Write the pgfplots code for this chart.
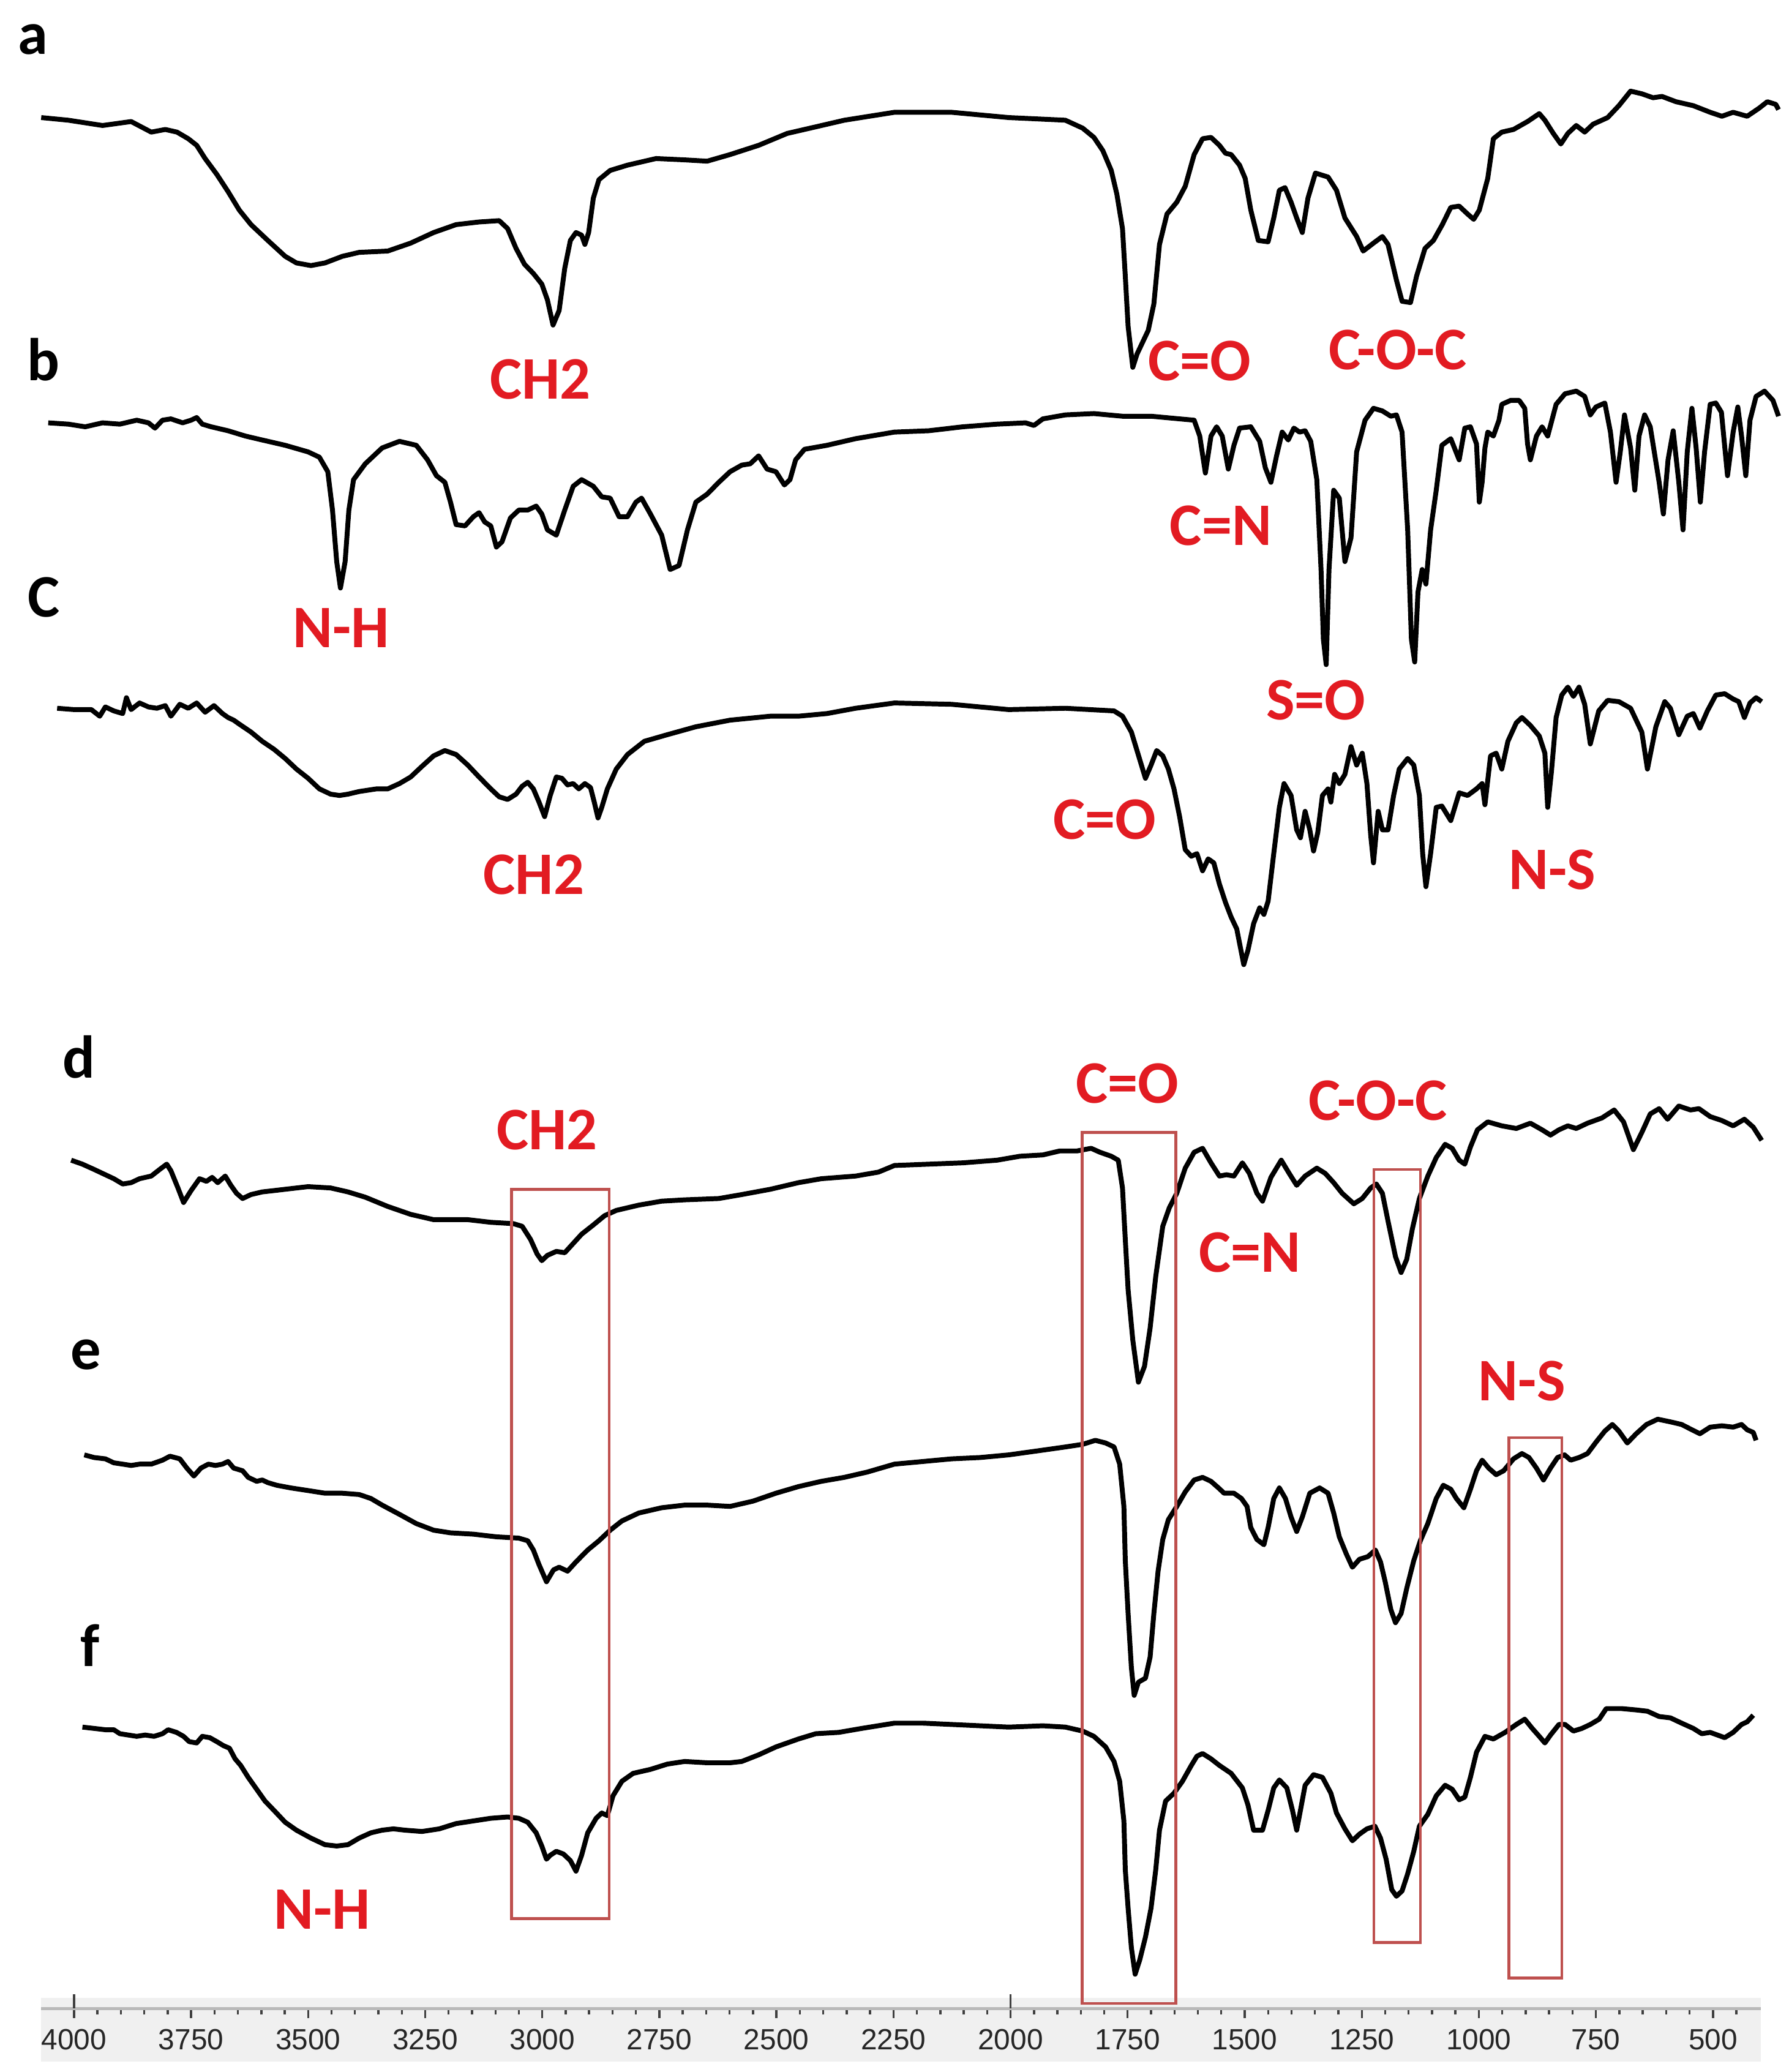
\documentclass[border=0pt]{standalone}
\usepackage{pgfplots}
\pgfplotsset{compat=1.18}
\usepackage{fontspec}
\setmainfont{Liberation Sans}
\newfontfamily\carlito{Carlito}

\definecolor{lblred}{RGB}{226,27,34}
\definecolor{boxred}{RGB}{190,80,78}
\tikzset{spec/.style={black, solid, line width=1.05pt, line join=round, mark=none}}

% x: wavenumber (cm^-1), y: stacked transmittance (arbitrary offsets)
\pgfplotstableread{
4070 -89
4012 -91
3939 -95
3878 -92
3835 -100
3805 -98
3780 -100
3756 -105
3738 -110
3720 -120
3695 -132
3671 -145
3647 -159
3622 -170
3586 -182
3549 -194
3525 -199
3494 -201
3464 -199
3427 -194
3391 -191
3330 -190
3281 -184
3232 -176
3184 -170
3135 -168
3092 -167
3074 -173
3056 -188
3038 -200
3019 -207
3001 -215
2989 -227
2977 -246
2964 -235
2952 -203
2940 -182
2928 -176
2916 -178
2909 -185
2901 -176
2891 -150
2879 -136
2855 -129
2818 -125
2757 -120
2696 -121
2648 -122
2599 -117
2538 -110
2477 -101
2428 -97
2355 -91
2248 -85
2126 -85
2004 -89
1883 -91
1846 -97
1822 -104
1803 -114
1785 -129
1773 -147
1761 -173
1755 -209
1749 -247
1739 -278
1730 -268
1718 -259
1706 -250
1694 -230
1682 -185
1666 -162
1645 -153
1627 -141
1608 -117
1590 -105
1572 -104
1554 -110
1541 -116
1529 -117
1511 -125
1499 -135
1487 -159
1471 -182
1450 -183
1438 -165
1426 -144
1414 -142
1401 -153
1389 -165
1377 -176
1365 -150
1349 -131
1322 -134
1304 -144
1286 -165
1261 -179
1247 -190
1225 -184
1206 -179
1194 -185
1176 -212
1164 -228
1146 -229
1133 -209
1115 -188
1097 -182
1078 -170
1060 -157
1042 -156
1024 -162
1011 -166
999 -159
981 -135
969 -105
951 -100
926 -98
896 -92
871 -86
859 -91
841 -101
825 -109
810 -101
792 -95
774 -100
756 -94
725 -89
701 -80
676 -69
652 -71
628 -74
609 -73
579 -77
542 -80
506 -85
481 -88
457 -85
427 -88
402 -82
384 -77
366 -79
360 -83
}\specA

\pgfplotstableread{
4055 -320
4012 -321
3976 -323
3939 -320
3902 -321
3866 -318
3841 -320
3827 -324
3811 -318
3793 -317
3768 -320
3750 -318
3738 -316
3726 -321
3707 -323
3671 -326
3634 -330
3598 -333
3549 -337
3500 -342
3476 -346
3458 -357
3448 -386
3439 -425
3431 -445
3421 -425
3413 -386
3403 -363
3378 -351
3342 -339
3305 -334
3269 -337
3245 -348
3226 -360
3208 -365
3196 -380
3184 -397
3165 -398
3147 -391
3135 -388
3123 -395
3110 -398
3098 -414
3086 -410
3068 -392
3050 -386
3031 -386
3013 -383
3001 -389
2989 -401
2970 -405
2952 -386
2934 -368
2916 -363
2891 -368
2873 -376
2855 -377
2836 -391
2818 -391
2800 -380
2788 -377
2769 -389
2745 -405
2727 -431
2708 -428
2690 -401
2672 -380
2648 -374
2623 -365
2599 -357
2574 -352
2556 -351
2538 -345
2520 -355
2501 -357
2483 -367
2471 -363
2459 -348
2440 -340
2392 -337
2331 -332
2248 -327
2175 -326
2102 -323
2029 -321
1968 -320
1950 -322
1931 -317
1883 -314
1822 -313
1761 -315
1700 -315
1639 -317
1608 -318
1596 -330
1584 -358
1572 -330
1560 -323
1548 -330
1535 -355
1523 -337
1511 -324
1487 -323
1468 -334
1456 -354
1444 -365
1432 -345
1420 -327
1407 -333
1395 -324
1383 -327
1371 -326
1359 -334
1346 -363
1337 -431
1332 -484
1326 -503
1320 -431
1310 -371
1298 -377
1286 -425
1273 -407
1261 -342
1243 -318
1225 -309
1206 -311
1188 -315
1176 -314
1164 -327
1152 -401
1144 -484
1137 -501
1130 -448
1121 -431
1113 -442
1103 -401
1091 -371
1079 -337
1060 -332
1042 -348
1030 -324
1018 -323
1005 -336
999 -380
993 -365
987 -339
981 -327
969 -330
957 -318
951 -306
932 -303
914 -303
902 -309
896 -336
890 -348
877 -330
865 -323
853 -330
835 -306
816 -298
792 -296
774 -300
762 -314
750 -308
731 -305
719 -327
707 -365
698 -342
689 -314
676 -339
667 -371
658 -330
646 -314
634 -323
615 -365
606 -389
596 -348
585 -326
573 -365
564 -401
555 -342
545 -309
536 -339
527 -380
518 -342
506 -306
494 -305
482 -312
469 -360
457 -327
447 -308
439 -330
430 -360
421 -318
408 -300
390 -296
372 -303
360 -315
}\specB

\pgfplotstableread{
4036 -536
4000 -537
3963 -537
3945 -542
3933 -535
3915 -538
3896 -540
3888 -528
3878 -537
3860 -532
3841 -535
3823 -536
3805 -534
3793 -542
3774 -533
3756 -536
3738 -532
3720 -539
3701 -534
3683 -540
3671 -543
3659 -545
3647 -548
3622 -554
3598 -561
3573 -567
3549 -574
3525 -582
3500 -589
3476 -597
3452 -601
3433 -602
3415 -601
3391 -599
3354 -597
3330 -597
3305 -593
3281 -588
3257 -580
3232 -572
3208 -568
3184 -571
3159 -579
3135 -588
3110 -597
3092 -603
3074 -605
3056 -601
3043 -595
3031 -592
3019 -597
3007 -607
2995 -618
2983 -602
2970 -588
2958 -589
2946 -594
2934 -593
2922 -597
2909 -593
2897 -596
2889 -607
2881 -619
2873 -611
2861 -597
2842 -582
2818 -571
2782 -561
2733 -556
2672 -550
2599 -545
2513 -542
2453 -542
2392 -540
2331 -536
2248 -532
2126 -533
2004 -537
1883 -536
1779 -538
1761 -542
1742 -554
1724 -575
1712 -589
1700 -579
1688 -568
1675 -572
1663 -582
1651 -597
1639 -618
1627 -643
1614 -648
1602 -646
1590 -659
1578 -650
1566 -653
1554 -669
1541 -683
1529 -694
1517 -703
1502 -730
1493 -719
1481 -699
1468 -687
1459 -692
1450 -682
1438 -646
1426 -611
1416 -593
1401 -602
1389 -628
1381 -634
1371 -614
1361 -628
1353 -644
1344 -630
1334 -602
1322 -597
1316 -607
1308 -586
1298 -593
1286 -586
1273 -565
1261 -579
1249 -570
1239 -593
1231 -632
1225 -653
1215 -614
1206 -628
1194 -628
1182 -602
1170 -582
1152 -574
1139 -579
1127 -602
1120 -646
1113 -671
1103 -646
1091 -611
1079 -610
1060 -621
1042 -600
1024 -602
1005 -597
993 -593
987 -609
975 -572
963 -570
951 -582
938 -561
920 -547
908 -543
890 -549
871 -557
859 -570
853 -611
845 -584
835 -543
823 -526
810 -520
798 -527
786 -520
774 -533
762 -563
744 -538
725 -530
701 -531
676 -536
652 -554
640 -582
622 -550
603 -531
591 -536
573 -556
555 -542
542 -540
528 -551
512 -538
494 -526
475 -525
457 -529
445 -531
433 -543
421 -532
408 -528
396 -531
}\specC

\pgfplotstableread{
4006 -878
3982 -881
3957 -885
3939 -888
3915 -892
3896 -896
3878 -895
3860 -892
3835 -890
3817 -885
3802 -881
3793 -886
3778 -899
3766 -910
3750 -901
3732 -892
3717 -894
3705 -891
3693 -895
3677 -890
3665 -897
3653 -903
3640 -907
3622 -904
3598 -902
3573 -901
3549 -900
3500 -898
3452 -899
3415 -902
3378 -906
3330 -913
3281 -919
3232 -923
3159 -923
3110 -925
3062 -926
3043 -928
3025 -938
3011 -949
3001 -954
2989 -950
2970 -947
2952 -948
2934 -941
2916 -934
2891 -927
2867 -920
2842 -916
2794 -912
2745 -909
2696 -908
2623 -907
2574 -904
2513 -900
2453 -895
2404 -892
2331 -890
2282 -887
2248 -882
2175 -881
2102 -880
2029 -878
1980 -875
1931 -874
1895 -871
1858 -871
1828 -869
1809 -872
1785 -875
1770 -878
1761 -899
1755 -938
1749 -976
1739 -1014
1727 -1046
1714 -1034
1702 -1005
1690 -966
1675 -928
1661 -914
1645 -903
1627 -884
1608 -872
1590 -869
1572 -880
1554 -890
1539 -889
1523 -890
1505 -880
1490 -888
1474 -903
1462 -909
1444 -891
1422 -878
1405 -888
1389 -897
1371 -890
1346 -884
1328 -888
1310 -895
1292 -903
1267 -911
1249 -907
1231 -899
1219 -896
1206 -903
1194 -924
1178 -951
1166 -963
1154 -953
1142 -930
1127 -907
1109 -890
1091 -876
1072 -866
1057 -869
1042 -878
1030 -881
1018 -868
1003 -855
981 -849
951 -852
920 -854
890 -850
865 -855
847 -859
829 -855
810 -852
792 -854
768 -850
737 -846
711 -840
691 -849
670 -870
652 -857
634 -843
615 -839
597 -847
573 -837
548 -840
530 -839
506 -845
481 -848
457 -852
433 -847
414 -853
396 -863
}\specD

\pgfplotstableread{
3978 -1101
3957 -1103
3933 -1104
3915 -1107
3896 -1108
3878 -1109
3860 -1108
3835 -1108
3811 -1105
3795 -1102
3774 -1104
3759 -1111
3744 -1117
3729 -1111
3713 -1108
3698 -1109
3683 -1108
3671 -1106
3659 -1111
3640 -1113
3628 -1118
3610 -1121
3598 -1120
3586 -1122
3567 -1124
3537 -1126
3500 -1128
3464 -1130
3427 -1130
3391 -1131
3366 -1134
3342 -1139
3305 -1146
3269 -1153
3232 -1158
3196 -1160
3147 -1161
3098 -1163
3050 -1164
3031 -1166
3019 -1173
3007 -1184
2991 -1197
2976 -1188
2964 -1186
2946 -1189
2928 -1182
2903 -1173
2879 -1166
2855 -1158
2830 -1151
2794 -1145
2745 -1141
2696 -1139
2648 -1139
2599 -1140
2550 -1136
2501 -1130
2453 -1125
2404 -1121
2355 -1118
2306 -1114
2248 -1108
2187 -1106
2126 -1104
2065 -1103
2004 -1101
1943 -1098
1883 -1095
1846 -1093
1819 -1090
1797 -1092
1779 -1095
1767 -1108
1758 -1140
1755 -1181
1749 -1221
1742 -1262
1736 -1283
1727 -1273
1712 -1270
1702 -1254
1694 -1221
1685 -1189
1675 -1165
1663 -1150
1645 -1140
1627 -1129
1608 -1120
1590 -1118
1572 -1121
1556 -1126
1544 -1130
1523 -1130
1507 -1134
1495 -1140
1487 -1156
1474 -1165
1459 -1169
1450 -1156
1438 -1134
1426 -1126
1413 -1134
1401 -1148
1389 -1159
1377 -1148
1361 -1130
1340 -1126
1322 -1130
1310 -1145
1298 -1163
1283 -1176
1270 -1186
1255 -1180
1237 -1178
1221 -1173
1210 -1182
1200 -1197
1188 -1218
1178 -1228
1166 -1221
1154 -1202
1139 -1181
1125 -1166
1109 -1153
1091 -1134
1076 -1124
1060 -1127
1048 -1134
1032 -1141
1018 -1127
1005 -1113
993 -1105
979 -1111
963 -1116
947 -1113
926 -1104
908 -1100
893 -1103
877 -1111
862 -1120
847 -1111
832 -1103
817 -1101
804 -1105
786 -1103
768 -1100
749 -1091
731 -1083
715 -1078
701 -1083
683 -1092
664 -1085
642 -1078
618 -1074
591 -1076
567 -1078
545 -1082
528 -1085
506 -1080
481 -1079
457 -1080
439 -1078
427 -1082
414 -1084
408 -1090
}\specE

\pgfplotstableread{
3982 -1307
3957 -1308
3933 -1309
3915 -1309
3902 -1312
3884 -1313
3866 -1314
3848 -1313
3829 -1314
3811 -1312
3799 -1309
3781 -1311
3766 -1314
3754 -1318
3738 -1319
3726 -1314
3710 -1315
3695 -1318
3681 -1321
3668 -1323
3656 -1331
3644 -1336
3628 -1345
3610 -1354
3592 -1363
3573 -1370
3549 -1379
3525 -1385
3494 -1391
3464 -1396
3439 -1397
3415 -1396
3391 -1391
3366 -1387
3342 -1385
3318 -1384
3293 -1385
3257 -1386
3220 -1384
3184 -1380
3147 -1378
3110 -1376
3074 -1375
3050 -1376
3031 -1379
3013 -1387
3001 -1397
2991 -1407
2983 -1404
2970 -1401
2955 -1403
2940 -1408
2928 -1416
2916 -1404
2903 -1387
2885 -1376
2873 -1372
2861 -1374
2849 -1359
2830 -1348
2806 -1342
2769 -1339
2733 -1335
2696 -1333
2648 -1334
2599 -1334
2574 -1333
2538 -1328
2501 -1322
2453 -1316
2416 -1312
2367 -1311
2318 -1308
2248 -1304
2187 -1304
2126 -1305
2065 -1306
2004 -1307
1931 -1306
1883 -1307
1846 -1310
1822 -1314
1797 -1322
1779 -1333
1767 -1348
1758 -1378
1755 -1415
1749 -1444
1742 -1474
1734 -1494
1724 -1483
1712 -1466
1700 -1444
1690 -1415
1682 -1385
1669 -1363
1651 -1357
1633 -1348
1614 -1336
1602 -1329
1590 -1327
1572 -1331
1554 -1336
1529 -1342
1505 -1353
1493 -1366
1481 -1385
1462 -1385
1450 -1370
1438 -1353
1426 -1347
1410 -1353
1398 -1370
1389 -1385
1381 -1370
1371 -1351
1353 -1343
1334 -1345
1316 -1357
1304 -1372
1286 -1384
1270 -1393
1255 -1388
1239 -1384
1222 -1382
1210 -1391
1198 -1407
1186 -1430
1176 -1435
1164 -1431
1152 -1418
1139 -1401
1127 -1382
1109 -1373
1091 -1359
1072 -1351
1057 -1354
1042 -1362
1030 -1360
1018 -1345
1005 -1326
987 -1314
969 -1316
944 -1311
920 -1305
902 -1301
886 -1308
871 -1314
859 -1319
847 -1313
829 -1305
816 -1305
798 -1310
780 -1308
762 -1305
743 -1301
728 -1293
695 -1293
664 -1294
640 -1295
615 -1299
591 -1300
567 -1304
542 -1308
524 -1312
506 -1311
475 -1315
457 -1311
439 -1305
427 -1303
414 -1298
}\specF

\begin{document}
\begin{tikzpicture}
\begin{axis}[
  set layers,
  width=13.017cm, height=15.2cm, scale only axis,
  x dir=reverse, xmin=398, xmax=4071, ymin=-1520, ymax=0,
  axis y line=none, axis x line*=bottom,
  x axis line style={gray!55, line width=0.6pt},
  xtick={500,750,...,4000},
  minor xtick={450,500,...,3950},
  tick align=outside,
  major tick length=0.07cm, minor tick length=0.045cm,
  every tick/.style={black!75, line width=0.45pt},
  xticklabel style={font=\fontsize{6.3}{7}\selectfont, text=black!85,
    /pgf/number format/1000 sep={}, /pgf/number format/assume math mode=true,
    inner sep=0pt, yshift=-0.08cm},
  clip=false,
]
\begin{pgfonlayer}{axis background}
  \fill[gray!12] (axis cs:4071,-1512) rectangle (axis cs:398,-1560);
\end{pgfonlayer}
\path (axis cs:4158,0) rectangle (axis cs:338,-1568);

\addplot[spec] table {\specA};
\addplot[spec] table {\specB};
\addplot[spec] table {\specC};
\addplot[spec] table {\specD};
\addplot[spec] table {\specE};
\addplot[spec] table {\specF};

% long marker ticks
\draw[black!75, line width=0.45pt] (axis cs:4000,-1520) -- (axis cs:4000,-1509);
\draw[black!75, line width=0.45pt] (axis cs:2000,-1520) -- (axis cs:2000,-1509);

% highlight boxes
\draw[boxred, line width=0.6pt] (axis cs:3066,-900) rectangle (axis cs:2857,-1452);
\draw[boxred, line width=0.6pt] (axis cs:1847,-857) rectangle (axis cs:1647,-1516);
\draw[boxred, line width=0.6pt] (axis cs:1224,-885) rectangle (axis cs:1125,-1470);
\draw[boxred, line width=0.6pt] (axis cs:936,-1088) rectangle (axis cs:823,-1497);

% panel letters
\begin{scope}[every node/.style={font=\carlito\bfseries\fontsize{13}{14}\selectfont, text=black}]
\node at (axis cs:4088,-30) {a};
\node at (axis cs:4065,-272) {b};
\node at (axis cs:4065,-452) {C};
\node at (axis cs:3989,-800) {d};
\node at (axis cs:3975,-1025) {e};
\node at (axis cs:3966,-1245) {f};
\end{scope}

% band labels
\begin{scope}[every node/.style={font=\carlito\bfseries\fontsize{13}{14}\selectfont, text=lblred}]
\node at (axis cs:3004,-287) {CH2};
\node at (axis cs:1596,-273) {C=O};
\node at (axis cs:1173,-265) {C-O-C};
\node at (axis cs:3430,-475) {N-H};
\node at (axis cs:1551,-398) {C=N};
\node at (axis cs:1348,-530) {S=O};
\node at (axis cs:3018,-662) {CH2};
\node at (axis cs:1799,-620) {C=O};
\node at (axis cs:843,-658) {N-S};
\node at (axis cs:2990,-855) {CH2};
\node at (axis cs:1751,-820) {C=O};
\node at (axis cs:1215,-833) {C-O-C};
\node at (axis cs:1489,-948) {C=N};
\node at (axis cs:908,-1045) {N-S};
\node at (axis cs:3470,-1445) {N-H};
\end{scope}
\end{axis}
\end{tikzpicture}
\end{document}
